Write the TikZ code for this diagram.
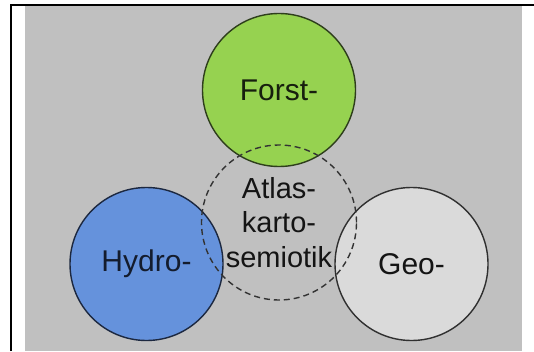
\documentclass[tikz,border=0pt]{standalone}
\usepackage{fontspec}
\setmainfont{Liberation Sans}
\definecolor{panelgray}{HTML}{C0C0C0}
\definecolor{forstfill}{HTML}{96D250}
\definecolor{forstline}{HTML}{2E3E1C}
\definecolor{hydrofill}{HTML}{6592DC}
\definecolor{hydroline}{HTML}{1C2840}
\definecolor{geofill}{HTML}{DADADA}
\definecolor{geoline}{HTML}{303030}
\tikzset{
  field/.style={circle, minimum size=153pt, inner sep=0pt, line width=1.4pt,
    font=\fontsize{30}{34}\selectfont},
  core/.style={circle, minimum size=155pt, inner sep=0pt, line width=1.4pt,
    draw=black!80, dashed, dash pattern=on 6pt off 4pt, align=center,
    font=\fontsize{29}{34.5}\selectfont, text=black!92},
  rule/.style={line width=2pt, black}
}
\begin{document}
\begin{tikzpicture}[x=1pt,y=1pt]
  \useasboundingbox (0,0) rectangle (534,351);
  % frame rules and grey panel
  \fill[panelgray] (25,0) rectangle (522,344.5);
  \draw[rule] (10,345.5) -- (534,345.5);
  \draw[rule] (11,0) -- (11,346.5);
  % the three fields
  \node[field, fill=forstfill, draw=forstline, text=forstline!50!black] (forst) at (279,261) {Forst-};
  \node[field, fill=hydrofill, draw=hydroline, text=hydroline!70!black] (hydro) at (146.5,87) {Hydro-};
  \node[field, fill=geofill, draw=geoline, text=black!92] (geo) at (411.5,87) {Geo-};
  % shared core
  \node[core] (atlas) at (279,128.5) {Atlas-\\karto-\\semiotik};
\end{tikzpicture}
\end{document}
